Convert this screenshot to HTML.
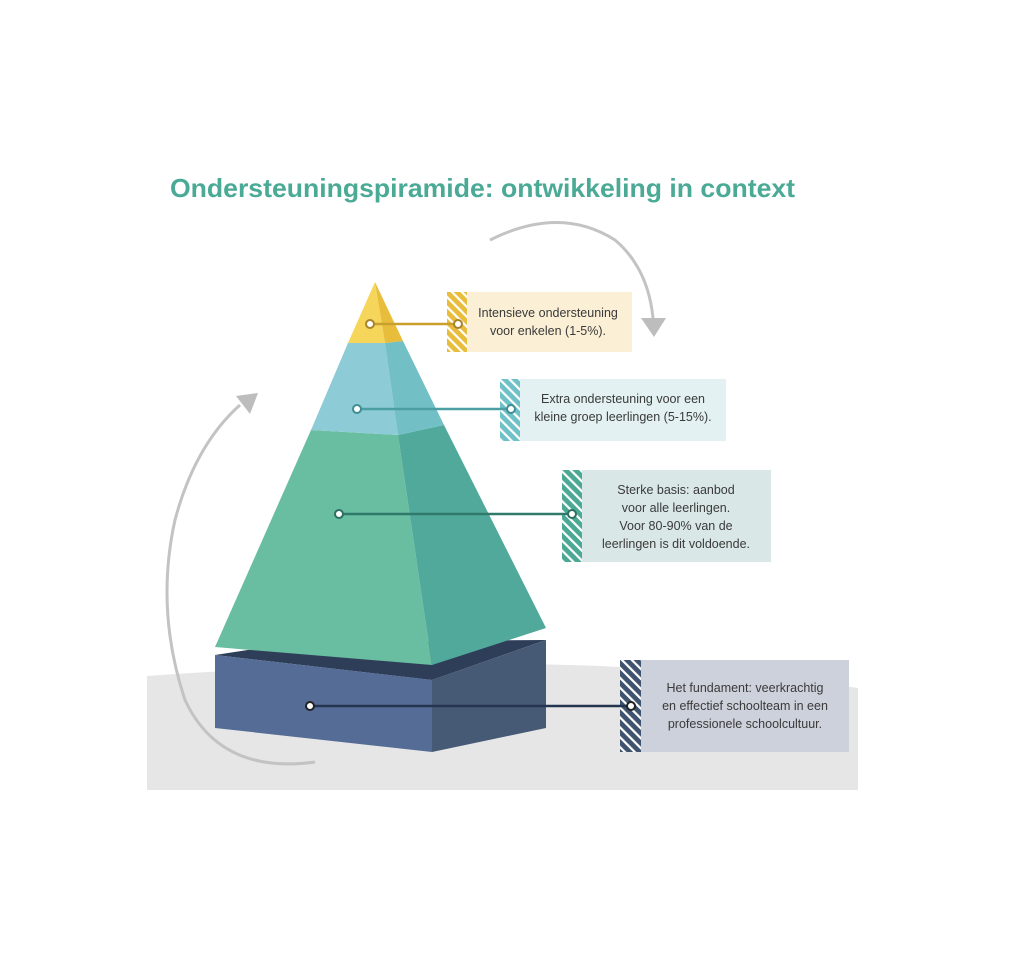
<!DOCTYPE html>
<html><head><meta charset="utf-8"><style>
html,body{margin:0;padding:0;background:#fff;}
svg{display:block;font-family:"Liberation Sans",sans-serif;}
</style></head><body>
<svg width="1024" height="980" viewBox="0 0 1024 980" xmlns="http://www.w3.org/2000/svg">
<defs>
<pattern id="hy" width="7" height="7" patternUnits="userSpaceOnUse" patternTransform="rotate(-45)"><rect width="7" height="7" fill="#e9bd3c"/><rect width="2.2" height="7" fill="#fff"/></pattern>
<pattern id="hb" width="7" height="7" patternUnits="userSpaceOnUse" patternTransform="rotate(-45)"><rect width="7" height="7" fill="#6fc1c8"/><rect width="2.2" height="7" fill="#fff"/></pattern>
<pattern id="hg" width="7" height="7" patternUnits="userSpaceOnUse" patternTransform="rotate(-45)"><rect width="7" height="7" fill="#4aa895"/><rect width="2.2" height="7" fill="#fff"/></pattern>
<pattern id="hn" width="7" height="7" patternUnits="userSpaceOnUse" patternTransform="rotate(-45)"><rect width="7" height="7" fill="#3f536f"/><rect width="2.2" height="7" fill="#fff"/></pattern>
</defs>
<text x="170" y="197" font-size="26" font-weight="bold" fill="#4aaa96" textLength="625" lengthAdjust="spacingAndGlyphs">Ondersteuningspiramide: ontwikkeling in context</text>

<path d="M147 676 Q400 658 600 666 Q760 674 858 688 L858 790 L147 790 Z" fill="#e6e6e6"/>

<path d="M490 240 Q560 205 615 240 Q648 268 653 318" fill="none" stroke="#c3c3c3" stroke-width="3"/>
<polygon points="641,318 666,318 654,337" fill="#bdbdbd"/>
<path d="M315 762 Q220 775 185 700 Q155 610 175 520 Q195 445 240 405" fill="none" stroke="#c3c3c3" stroke-width="3"/>
<polygon points="236,396 258,393 250,414" fill="#bdbdbd"/>

<polygon points="215,655 300,642 546,640 432,680" fill="#2f3e58"/>
<polygon points="215,655 432,680 432,752 215,728" fill="#546c96"/>
<polygon points="432,680 546,640 546,728 432,752" fill="#465a75"/>

<polygon points="311,430 398,435 432,665 215,647" fill="#69bda1"/>
<polygon points="398,435 444,425 546,628 432,665" fill="#50a99a"/>
<polygon points="348,343 385,343 398,435 311,430" fill="#8dcbd6"/>
<polygon points="385,343 403,341 444,425 398,435" fill="#72c0c6"/>
<polygon points="375,282 385,343 348,343" fill="#f5d55a"/>
<polygon points="375,282 403,341 385,343" fill="#e9bd3c"/>

<rect x="447" y="292" width="185" height="60" fill="#fbefd6"/>
<rect x="447" y="292" width="20" height="60" fill="url(#hy)"/>
<rect x="500" y="379" width="226" height="62" fill="#e3f1f3"/>
<rect x="500" y="379" width="20" height="62" fill="url(#hb)"/>
<rect x="562" y="470" width="209" height="92" fill="#d9e8e6"/>
<rect x="562" y="470" width="20" height="92" fill="url(#hg)"/>
<rect x="620" y="660" width="229" height="92" fill="#cdd1db"/>
<rect x="620" y="660" width="21" height="92" fill="url(#hn)"/>

<g stroke-width="2.5">
<line x1="370" y1="324" x2="458" y2="324" stroke="#c9a02e"/>
<line x1="357" y1="409" x2="511" y2="409" stroke="#4b9fa3"/>
<line x1="339" y1="514" x2="572" y2="514" stroke="#2f7a6a"/>
<line x1="310" y1="706" x2="631" y2="706" stroke="#243550"/>
</g>
<g fill="#fff" stroke-width="2">
<circle cx="370" cy="324" r="4" stroke="#a8842a"/><circle cx="458" cy="324" r="4" stroke="#a8842a"/>
<circle cx="357" cy="409" r="4" stroke="#3f8d92"/><circle cx="511" cy="409" r="4" stroke="#3f8d92"/>
<circle cx="339" cy="514" r="4" stroke="#2f6e62"/><circle cx="572" cy="514" r="4" stroke="#2f6e62"/>
<circle cx="310" cy="706" r="4" stroke="#222"/><circle cx="631" cy="706" r="4" stroke="#222"/>
</g>

<g font-size="12.5" fill="#3a3a3a" text-anchor="middle">
<text x="548" y="317">Intensieve ondersteuning</text>
<text x="548" y="335">voor enkelen (1-5%).</text>
<text x="623" y="403">Extra ondersteuning voor een</text>
<text x="623" y="421">kleine groep leerlingen (5-15%).</text>
<text x="676" y="494">Sterke basis: aanbod</text>
<text x="676" y="512">voor alle leerlingen.</text>
<text x="676" y="530">Voor 80-90% van de</text>
<text x="676" y="548">leerlingen is dit voldoende.</text>
<text x="745" y="692">Het fundament: veerkrachtig</text>
<text x="745" y="710">en effectief schoolteam in een</text>
<text x="745" y="728">professionele schoolcultuur.</text>
</g>
</svg>
</body></html>
